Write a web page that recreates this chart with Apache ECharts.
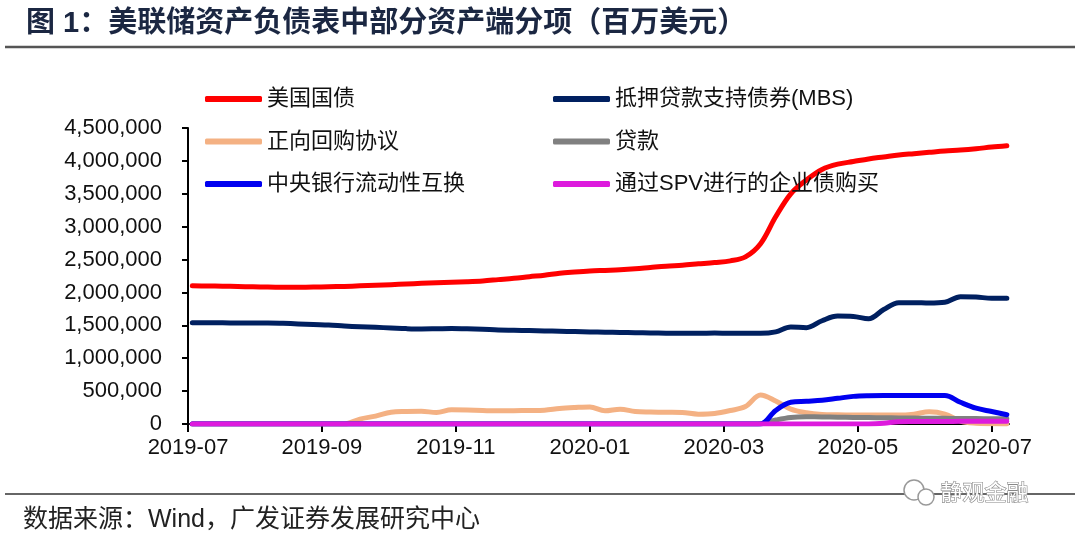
<!DOCTYPE html>
<html><head><meta charset="utf-8">
<script src="https://cdn.jsdelivr.net/npm/echarts@6/dist/echarts.min.js"></script>
<style>html,body{margin:0;padding:0;background:#fff}#c{width:1080px;height:542px}</style>
</head><body><div id="c"></div>
<script>
// ---- data (weekly Wednesday levels, millions of USD) ----
const dates = [
 '2019-07-03','2019-07-10','2019-07-17','2019-07-24','2019-07-31','2019-08-07','2019-08-14','2019-08-21','2019-08-28',
 '2019-09-04','2019-09-11','2019-09-18','2019-09-25','2019-10-02','2019-10-09','2019-10-16','2019-10-23','2019-10-30',
 '2019-11-06','2019-11-13','2019-11-20','2019-11-27','2019-12-04','2019-12-11','2019-12-18','2019-12-25','2020-01-01',
 '2020-01-08','2020-01-15','2020-01-22','2020-01-29','2020-02-05','2020-02-12','2020-02-19','2020-02-26','2020-03-04',
 '2020-03-11','2020-03-18','2020-03-25','2020-04-01','2020-04-08','2020-04-15','2020-04-22','2020-04-29','2020-05-06',
 '2020-05-13','2020-05-20','2020-05-27','2020-06-03','2020-06-10','2020-06-17','2020-06-24','2020-07-01','2020-07-08'
];
const treasury = [
 2100000,2098000,2095000,2090000,2086000,2082000,2080000,2080000,2082000,
 2086000,2092000,2100000,2108000,2118000,2128000,2138000,2146000,2155000,
 2163000,2175000,2195000,2215000,2240000,2262000,2292000,2310000,2325000,
 2335000,2345000,2360000,2380000,2400000,2415000,2435000,2455000,2480000,
 2540000,2740000,3150000,3500000,3710000,3870000,3950000,3990000,4030000,
 4060000,4090000,4110000,4130000,4150000,4165000,4185000,4210000,4230000
];
const mbs = [
 1540000,1540000,1538000,1536000,1535000,1535000,1530000,1522000,1512000,
 1505000,1490000,1478000,1470000,1460000,1450000,1445000,1448000,1452000,
 1448000,1440000,1430000,1425000,1420000,1415000,1410000,1405000,1400000,
 1395000,1392000,1388000,1384000,1380000,1378000,1380000,1382000,1380000,
 1378000,1378000,1400000,1475000,1465000,1570000,1640000,1635000,1600000,
 1740000,1845000,1845000,1838000,1850000,1935000,1930000,1912000,1912000
];
const repo = [
 0,0,0,0,0,0,0,0,0,
 0,0,75000,120000,180000,190000,194000,175000,215000,
 212000,205000,200000,203000,205000,210000,235000,250000,260000,
 200000,225000,190000,182000,178000,175000,150000,160000,205000,
 265000,440000,350000,225000,170000,145000,140000,137000,135000,
 137000,135000,150000,185000,150000,45000,12000,4000,1000
];
const loans = [
 0,0,0,0,0,0,0,0,0,
 0,0,0,0,0,0,0,0,0,
 0,0,0,0,0,0,0,0,0,
 0,0,0,0,0,0,0,0,0,
 0,5000,60000,100000,110000,108000,104000,100000,97000,
 95000,93000,90000,88000,86000,84000,82000,80000,78000
];
const swaps = [
 0,0,0,0,0,0,0,0,0,
 0,0,0,0,0,0,0,0,0,
 0,0,0,0,0,0,0,0,0,
 0,0,0,0,0,0,0,0,0,
 0,0,206000,330000,345000,360000,390000,420000,430000,
 432000,432000,433000,433000,433000,330000,240000,190000,140000
];
const spv = [
 0,0,0,0,0,0,0,0,0,
 0,0,0,0,0,0,0,0,0,
 0,0,0,0,0,0,0,0,0,
 0,0,0,0,0,0,0,0,0,
 0,0,0,0,0,0,0,0,0,
 10000,35000,37000,38000,39000,40000,41000,42000,43000
];
const seriesNames = ['美国国债','抵押贷款支持债券(MBS)','正向回购协议','贷款','中央银行流动性互换','通过SPV进行的企业债购买'];
const seriesColors = ['#FF0000','#002060','#F4B183','#808080','#0000F0','#DD1ADD'];
const tickLabels = ['2019-07','2019-09','2019-11','2020-01','2020-03','2020-05','2020-07'];
const axisStart = '2019-07-01';
const axisEnd = '2020-07-09';
const titleText = '图 1：美联储资产负债表中部分资产端分项（百万美元）';
const sourceText = '数据来源：Wind，广发证券发展研究中心';

// ---- chart ----
const FONT = "'Liberation Sans', Arial, 'Noto Sans CJK SC', sans-serif";
// date string -> fractional month count since axisStart (a linear time scale in months)
function monthPos(s) {
  const p = s.split('-').map(Number);
  const b = axisStart.split('-').map(Number);
  const dim = new Date(Date.UTC(p[0], p[1], 0)).getUTCDate();
  return (p[0] - b[0]) * 12 + (p[1] - b[1]) + (((p[2] || 1) - 1) / dim);
}
const tickPos = tickLabels.map(s => monthPos(s + '-01'));
const values = [treasury, mbs, repo, loans, swaps, spv];
const chart = echarts.init(document.getElementById('c'), null, {renderer: 'canvas'});

const series = seriesNames.map((name, k) => ({
  name, type: 'line', showSymbol: false, symbol: 'none', smooth: 0.35,
  color: seriesColors[k],
  lineStyle: {width: 5, color: seriesColors[k], cap: 'round', join: 'round'},
  data: dates.map((d, i) => [monthPos(d), values[k][i]]),
  z: 2 + k
}));

const legendBase = {
  orient: 'vertical', icon: 'roundRect', itemWidth: 57, itemHeight: 6, itemGap: 20.5,
  selectedMode: false,
  textStyle: {fontSize: 22, color: '#111', fontFamily: FONT, lineHeight: 22}
};

chart.setOption({
  backgroundColor: '#fff',
  animation: false,
  title: {
    text: titleText, left: 21, top: 4,
    textStyle: {fontSize: 29, fontWeight: 'bold', color: '#1B2742', fontFamily: FONT}
  },
  legend: [
    Object.assign({}, legendBase, {left: 200, top: 83, data: [seriesNames[0], seriesNames[2], seriesNames[4]]}),
    Object.assign({}, legendBase, {left: 548, top: 83, data: [seriesNames[1], seriesNames[3], seriesNames[5]]})
  ],
  grid: {left: 188, right: 71, top: 128, bottom: 118, containLabel: false},
  xAxis: {
    type: 'value', min: 0, max: monthPos(axisEnd),
    axisLine: {show: true, lineStyle: {color: '#000', width: 2}},
    axisTick: {show: true, length: 8, lineStyle: {color: '#000', width: 2}, customValues: tickPos},
    axisLabel: {
      customValues: tickPos, fontSize: 22, color: '#111', fontFamily: FONT, margin: 13,
      formatter: v => { const i = tickPos.findIndex(p => Math.abs(p - v) < 1e-6); return i >= 0 ? tickLabels[i] : ''; }
    },
    splitLine: {show: false}
  },
  yAxis: {
    type: 'value', min: 0, max: 4500000, interval: 500000,
    axisLine: {show: true, lineStyle: {color: '#000', width: 2}},
    axisTick: {show: true, inside: false, length: 6, lineStyle: {color: '#000', width: 2}},
    axisLabel: {fontSize: 22, color: '#111', fontFamily: FONT, margin: 26,
      formatter: v => Number(v).toLocaleString('en-US')},
    splitLine: {show: false}
  },
  series,
  graphic: [
    {type: 'line', shape: {x1: 5, y1: 47, x2: 1075, y2: 47}, style: {stroke: '#555', lineWidth: 2.5}},
    {type: 'line', shape: {x1: 5, y1: 494, x2: 1075, y2: 494}, style: {stroke: '#333', lineWidth: 1.5}},
    {type: 'text', left: 23, top: 508, style: {text: sourceText, fontSize: 25, fill: '#222', fontFamily: FONT}},
    {type: 'circle', shape: {cx: 914, cy: 490, r: 10}, style: {fill: '#fff', stroke: '#999', lineWidth: 1.5}, z: 10},
    {type: 'circle', shape: {cx: 926, cy: 497, r: 8}, style: {fill: '#fff', stroke: '#999', lineWidth: 1.5}, z: 11},
    {type: 'text', left: 940, top: 480, z: 12,
      style: {text: '静观金融', fontSize: 22, fill: '#fff', stroke: '#888', lineWidth: 1.2, fontFamily: "'Noto Sans CJK SC', sans-serif"}}
  ]
});
</script>
</body></html>
